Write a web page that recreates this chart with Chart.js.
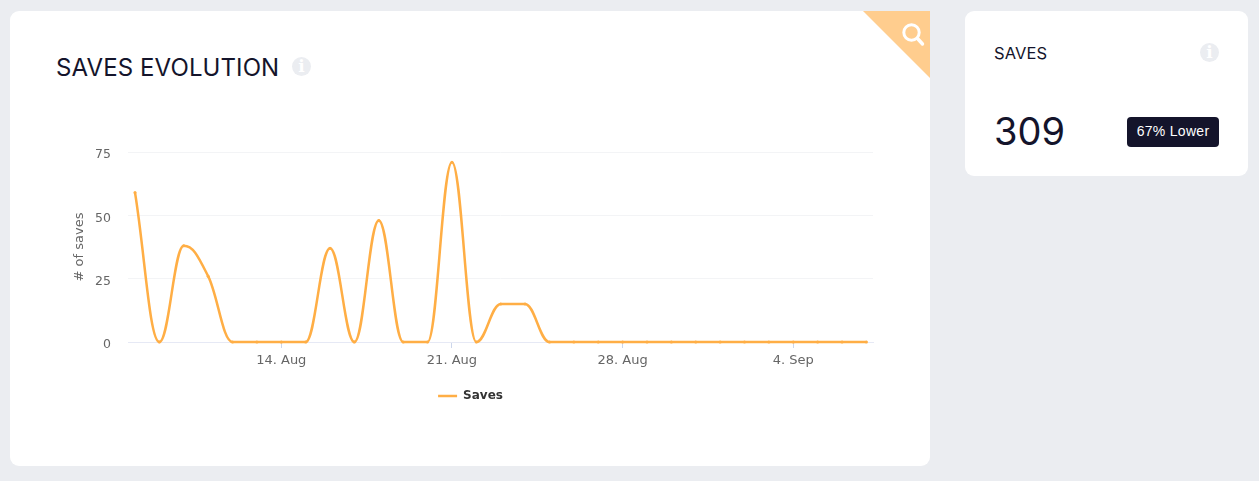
<!DOCTYPE html>
<html>
<head>
<meta charset="utf-8">
<script src="https://cdn.jsdelivr.net/npm/chart.js@4"></script>
<style>
  html, body { margin: 0; padding: 0; }
  body { width: 1259px; height: 481px; background: #ebedf1; position: relative; overflow: hidden; color: #14142b; font-family: Inter, sans-serif; }
  .card { position: absolute; background: #fff; border-radius: 9px; overflow: hidden; }
  #main { left: 10px; top: 11px; width: 920px; height: 455px; border-top-right-radius: 0; }
  #side { left: 965px; top: 11px; width: 283px; height: 165px; }
  .title { position: absolute; white-space: nowrap; font-weight: 400; }
  #mainTitle { left: 46px; top: 42px; font-size: 24px; line-height: 30px; letter-spacing: 0.1px; }
  #sideTitle { left: 29px; top: 32px; font-size: 16.5px; line-height: 20px; letter-spacing: 0.1px; }
  .info { position: absolute; width: 19px; height: 19px; border-radius: 50%; background: #ebedf1; color: #fff; font: bold 17px/19px "DejaVu Serif", serif; text-align: center; }
  #mainInfo { left: 282px; top: 46px; }
  #sideInfo { left: 235px; top: 32px; }
  #corner { position: absolute; right: 0; top: 0; width: 67px; height: 67px; background: #ffcd8e; clip-path: polygon(0 0, 100% 0, 100% 100%); }
  #corner svg { position: absolute; left: 38px; top: 10.5px; }
  #total { position: absolute; left: 29px; top: 96px; font-size: 38px; line-height: 48px; }
  #badge { position: absolute; left: 162px; top: 106px; width: 92px; height: 30px; border-radius: 4px; background: #14142b; color: #fff; font: 14px/29px "Liberation Sans", sans-serif; text-align: center; letter-spacing: 0.3px; }
  #wrap { position: absolute; left: 60px; top: 129px; width: 819px; height: 290px; }
</style>
</head>
<body>
<div class="card" id="main">
  <div class="title" id="mainTitle">SAVES EVOLUTION</div>
  <div class="info" id="mainInfo">i</div>
  <div id="corner">
    <svg width="26" height="26" viewBox="0 0 26 26" fill="none" stroke="#fff"><circle cx="10.5" cy="10.5" r="7.7" stroke-width="3"/><path d="M16.5 16.5l5 5.5" stroke-width="3.4" stroke-linecap="round"/></svg>
  </div>
</div>
<div class="card" id="side">
  <div class="title" id="sideTitle">SAVES</div>
  <div class="info" id="sideInfo">i</div>
  <div id="total">309</div>
  <div id="badge">67% Lower</div>
</div>
<div id="wrap"><canvas id="chart"></canvas></div>
<script>
// one entry per day, 8 Aug to 7 Sep
const dayLabels = ['8. Aug','9. Aug','10. Aug','11. Aug','12. Aug','13. Aug','14. Aug','15. Aug','16. Aug','17. Aug','18. Aug',
  '19. Aug','20. Aug','21. Aug','22. Aug','23. Aug','24. Aug','25. Aug','26. Aug','27. Aug','28. Aug','29. Aug','30. Aug','31. Aug',
  '1. Sep','2. Sep','3. Sep','4. Sep','5. Sep','6. Sep','7. Sep'];
const saves = [59,0,38,26,0,0,0,0,37,0,48,0,0,71,0,15,15,0,0,0,0,0,0,0,0,0,0,0,0,0,0];
const weeklyTicks = [6,13,20,27];
const yTicks = [0,25,50,75];

const LINE_COLOR = '#ffae45';

// the original spline has longer handles than Chart.js monotone (0.4 of the gap, not 1/3)
const widerCurve = {
  id: 'widerCurve',
  beforeDatasetsDraw(chart) {
    const line = chart.getDatasetMeta(0).dataset;
    line.updateControlPoints(chart.chartArea, 'x');
    if (line._widened) return;
    line._widened = true;
    line.points.forEach(p => {
      p.cp1x = p.x + (p.cp1x - p.x) * 1.2;
      p.cp1y = p.y + (p.cp1y - p.y) * 1.2;
      p.cp2x = p.x + (p.cp2x - p.x) * 1.2;
      p.cp2y = p.y + (p.cp2y - p.y) * 1.2;
    });
  },
};

new Chart(document.getElementById('chart'), {
  type: 'line',
  data: {
    datasets: [{
      label: 'Saves',
      data: saves.map((v, i) => ({ x: i, y: v })),
      borderColor: LINE_COLOR,
      backgroundColor: LINE_COLOR,
      borderWidth: 2.5,
      cubicInterpolationMode: 'monotone',
      pointRadius: 1.5,
      pointBackgroundColor: LINE_COLOR,
      pointBorderWidth: 0,
      clip: false,
    }],
  },
  plugins: [widerCurve],
  options: {
    responsive: true, maintainAspectRatio: false, animation: false,
    layout: { padding: { top: 13, right: 6, bottom: 7, left: 8 } },
    plugins: {
      tooltip: { enabled: false },
      legend: {
        position: 'bottom',
        labels: {
          usePointStyle: true, pointStyle: 'line', pointStyleWidth: 19, padding: 10,
          color: '#333333',
          font: { family: "'DejaVu Sans', sans-serif", size: 12, weight: 'bold' },
          generateLabels: chart => Chart.defaults.plugins.legend.labels.generateLabels(chart)
            .map(item => ({ ...item, lineWidth: 2.5, strokeStyle: LINE_COLOR })),
        },
      },
    },
    scales: {
      x: {
        type: 'linear', min: -0.287, max: 30.27,
        afterBuildTicks: axis => { axis.ticks = weeklyTicks.map(v => ({ value: v })); },
        afterFit: axis => { axis.height = 38; },
        ticks: {
          color: '#666666', font: { family: "'DejaVu Sans', sans-serif", size: 13 }, maxRotation: 0, padding: 5,
          autoSkip: false, callback: v => dayLabels[v],
        },
        border: { color: '#e6e9f5', width: 1 },
        grid: { drawOnChartArea: false, tickLength: 6, color: '#ccd6eb', tickColor: '#ccd6eb' },
      },
      y: {
        min: 0, max: 75,
        afterBuildTicks: axis => { axis.ticks = yTicks.map(v => ({ value: v })); },
        afterFit: axis => { axis.width = 60; },
        title: { display: true, text: '# of saves', color: '#666666', font: { family: "'DejaVu Sans', sans-serif", size: 13 }, padding: { top: 4, bottom: 0 } },
        // labels sit a little under their gridline: empty first line + small lineHeight pushes them down
        ticks: {
          color: '#666666', font: { family: "'DejaVu Sans', sans-serif", size: 12.5, lineHeight: '6px' }, padding: 17,
          callback: v => ['', String(v)],
        },
        border: { display: false },
        grid: { color: '#f3f4f6', lineWidth: 1, drawTicks: false },
      },
    },
  },
});
</script>
</body>
</html>
